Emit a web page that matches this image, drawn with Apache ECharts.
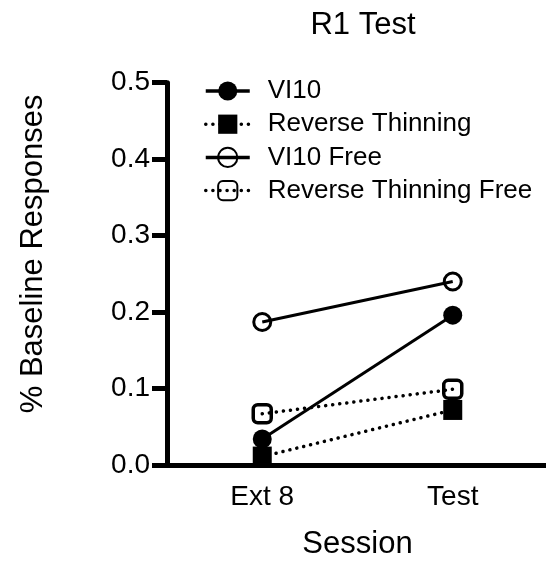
<!DOCTYPE html>
<html>
<head>
<meta charset="utf-8">
<script src="https://cdn.jsdelivr.net/npm/echarts@6/dist/echarts.min.js"></script>
<style>
html,body{margin:0;padding:0;background:#fff;}
#chart{width:546px;height:564px;}
</style>
</head>
<body>
<div id="chart"></div>
<script>
const categories = ['Ext 8', 'Test'];
const vi10 = [0.034, 0.196];
const reverseThinning = [0.011, 0.072];
const vi10Free = [0.187, 0.240];
const reverseThinningFree = [0.067, 0.099];
const seriesNames = ['VI10', 'Reverse Thinning', 'VI10 Free', 'Reverse Thinning Free'];

const FONT = "Arial, 'Liberation Sans', sans-serif";
const dotted = [0.1, 7];

const chart = echarts.init(document.getElementById('chart'), null, {renderer: 'canvas'});
chart.setOption({
  animation: false,
  backgroundColor: '#fff',
  title: {
    text: 'R1 Test',
    left: 358,
    textAlign: 'center',
    top: 5,
    textStyle: {fontFamily: FONT, fontSize: 31, fontWeight: 'normal', color: '#000'}
  },
  legend: {
    orient: 'vertical',
    left: 199,
    top: 73,
    itemWidth: 44,
    itemHeight: 24,
    itemGap: 7.2,
    data: seriesNames,
    lineStyle: {width: 3.5},
    textStyle: {fontFamily: FONT, fontSize: 26, color: '#000', padding: [0, 0, 0, 13], lineHeight: 24}
  },
  grid: {
    left: 167, top: 82.7, width: 381, height: 382.3,
    containLabel: false, outerBoundsMode: 'none'
  },
  xAxis: {
    type: 'category',
    data: categories,
    boundaryGap: true,
    axisLine: {lineStyle: {color: '#000', width: 5}},
    axisTick: {alignWithLabel: true, length: 14, lineStyle: {color: '#000', width: 5}},
    axisLabel: {fontFamily: FONT, fontSize: 28, color: '#000', margin: 18},
    name: 'Session',
    nameLocation: 'middle',
    nameGap: 64,
    nameTextStyle: {fontFamily: FONT, fontSize: 31, color: '#000'}
  },
  yAxis: {
    type: 'value',
    min: 0, max: 0.5, interval: 0.1,
    splitLine: {show: false},
    axisLine: {show: true, lineStyle: {color: '#000', width: 5}},
    axisTick: {show: true, length: 15, lineStyle: {color: '#000', width: 5}},
    axisLabel: {fontFamily: FONT, fontSize: 28, color: '#000', margin: 17,
      formatter: v => v.toFixed(1)},
    name: '% Baseline Responses',
    nameLocation: 'middle',
    nameGap: 118,
    nameTextStyle: {fontFamily: FONT, fontSize: 31, color: '#000', padding: [0, 0, 0, 40]}
  },
  series: [
    {
      name: seriesNames[0], type: 'line', data: vi10,
      symbol: 'circle', symbolSize: 19,
      lineStyle: {color: '#000', width: 3},
      itemStyle: {color: '#000'}
    },
    {
      name: seriesNames[1], type: 'line', data: reverseThinning,
      symbol: 'rect', symbolSize: [19, 20],
      lineStyle: {color: '#000', width: 3.5, type: dotted, cap: 'round'},
      itemStyle: {color: '#000'}
    },
    {
      name: seriesNames[2], type: 'line', data: vi10Free,
      symbol: 'circle', symbolSize: 17,
      lineStyle: {color: '#000', width: 3},
      itemStyle: {color: 'rgba(0,0,0,0)', borderColor: '#000', borderWidth: 3}
    },
    {
      name: seriesNames[3], type: 'line', data: reverseThinningFree,
      symbol: 'roundRect', symbolSize: 18,
      lineStyle: {color: '#000', width: 3.5, type: dotted, cap: 'round'},
      itemStyle: {color: 'rgba(0,0,0,0)', borderColor: '#000', borderWidth: 3.5}
    }
  ]
});
</script>
</body>
</html>
